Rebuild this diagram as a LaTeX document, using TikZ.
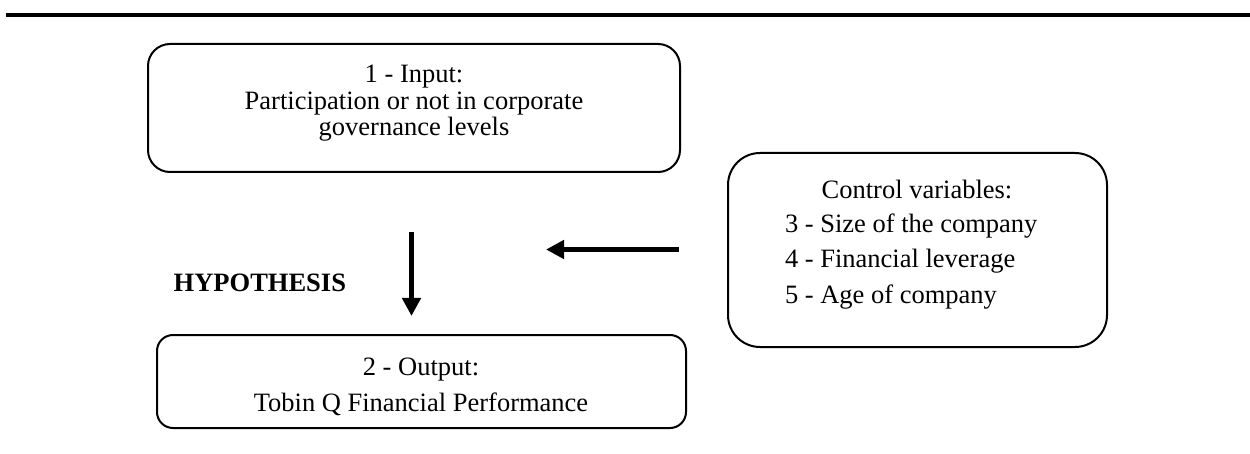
\documentclass[tikz,border=0pt]{standalone}
\usepackage{fontspec}
\setmainfont{Liberation Serif}
\usetikzlibrary{arrows.meta}
\begin{document}
\begin{tikzpicture}[x=1pt,y=-1pt,
  every node/.style={inner sep=0pt, outer sep=0pt},
  txt/.style={font=\fontsize{26.5}{26.5}\selectfont, anchor=base},
  box/.style={draw, line width=2pt, rounded corners=#1},
  bigarrow/.style={line width=5.5pt, -{Triangle[length=18pt,width=18pt]}}]
\useasboundingbox (0,0) rectangle (1250,454);
% top rule
\draw[line width=3.7pt] (6,14.8) -- (1250,14.8);
% box 1
\node[box=22pt, minimum width=532pt, minimum height=128pt] (inbox) at (414,108) {};
\node[txt] (in1) at (414,83) {1 - Input:};
\node[txt] (in2) at (414,110) {Participation or not in corporate};
\node[txt] (in3) at (414,136) {governance levels};
% box 3
\node[box=32pt, minimum width=379pt, minimum height=194pt] (ctrl) at (917.5,250) {};
\node[txt] (c0) at (917,199) {Control variables:};
\node[txt, anchor=base west] (c1) at (785,233) {3 - Size of the company};
\node[txt, anchor=base west] (c2) at (785,268) {4 - Financial leverage};
\node[txt, anchor=base west] (c3) at (785,303) {5 - Age of company};
% box 2
\node[box=16pt, minimum width=529pt, minimum height=93pt] (outbox) at (421.5,381.5) {};
\node[txt] (o1) at (421,375) {2 - Output:};
\node[txt] (o2) at (421,411) {Tobin Q Financial Performance};
% hypothesis
\node[txt, anchor=base east, font=\fontsize{26.5}{26.5}\selectfont\bfseries] (hyp) at (346,292) {HYPOTHESIS};
% arrows
\coordinate (d1) at (411.5,232);
\coordinate (d2) at (411.5,316);
\coordinate (l1) at (679,249.5);
\coordinate (l2) at (546,249.5);
\draw[bigarrow] (d1) -- (d2);
\draw[bigarrow] (l1) -- (l2);
\end{tikzpicture}
\end{document}
